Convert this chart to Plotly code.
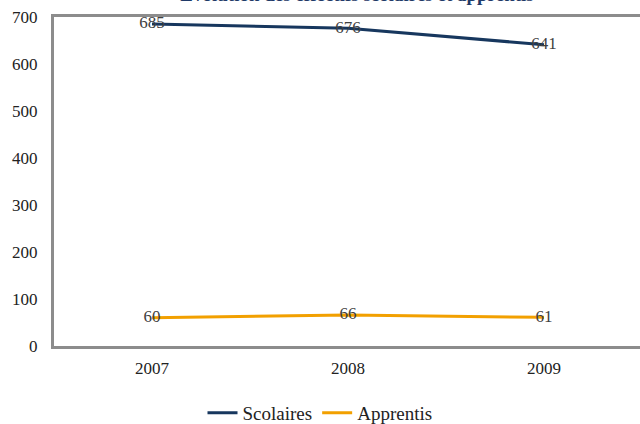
import plotly.graph_objects as go

years = ["2007", "2008", "2009"]
scolaires = [685, 676, 641]
apprentis = [60, 66, 61]
y_ticks = [0, 100, 200, 300, 400, 500, 600, 700]
title_text = "Evolution des effectifs scolaires et apprentis"

FONT = "Liberation Serif"

fig = go.Figure()
fig.add_trace(go.Scatter(
    x=years, y=scolaires, name="Scolaires", mode="lines+text",
    text=[str(v) for v in scolaires], textposition="middle center",
    textfont=dict(family=FONT, size=17, color="#404040"),
    line=dict(color="#17375E", width=3),
))
fig.add_trace(go.Scatter(
    x=years, y=apprentis, name="Apprentis", mode="lines+text",
    text=[str(v) for v in apprentis], textposition="middle center",
    textfont=dict(family=FONT, size=17, color="#404040"),
    line=dict(color="#F2A000", width=3),
))

fig.update_layout(
    width=640, height=424,
    margin=dict(l=54, r=0, t=17, b=78),
    paper_bgcolor="white", plot_bgcolor="white",
    font=dict(family=FONT, size=17, color="#222222"),
    title=dict(text="<b>" + title_text + "</b>", x=357 / 640, xanchor="center",
               xref="container", yref="container", y=1 - 1 / 424, yanchor="bottom",
               font=dict(family=FONT, size=19, color="#1F3A68")),
    showlegend=True,
    legend=dict(orientation="h", xref="container", yref="container",
                x=0.5, xanchor="center", y=(424 - 413) / 424, yanchor="middle",
                font=dict(family=FONT, size=19, color="#222222"),
                itemwidth=30, tracegroupgap=0),
    xaxis=dict(type="category", range=[-0.5, 2.49], showgrid=False, zeroline=False,
               showline=True, linecolor="#8C8C8C", linewidth=3, mirror=True,
               ticks="", ticklabelstandoff=5,
               tickfont=dict(family=FONT, size=17, color="#222222")),
    yaxis=dict(range=[0, 700], tickvals=y_ticks, showgrid=False, zeroline=False,
               showline=True, linecolor="#8C8C8C", linewidth=3, mirror=False,
               ticks="", ticklabelstandoff=10,
               tickfont=dict(family=FONT, size=17, color="#222222")),
)

fig.write_html("out.html", config={"displayModeBar": False},
               post_script="document.body.style.margin='0';document.body.style.overflow='hidden';")
